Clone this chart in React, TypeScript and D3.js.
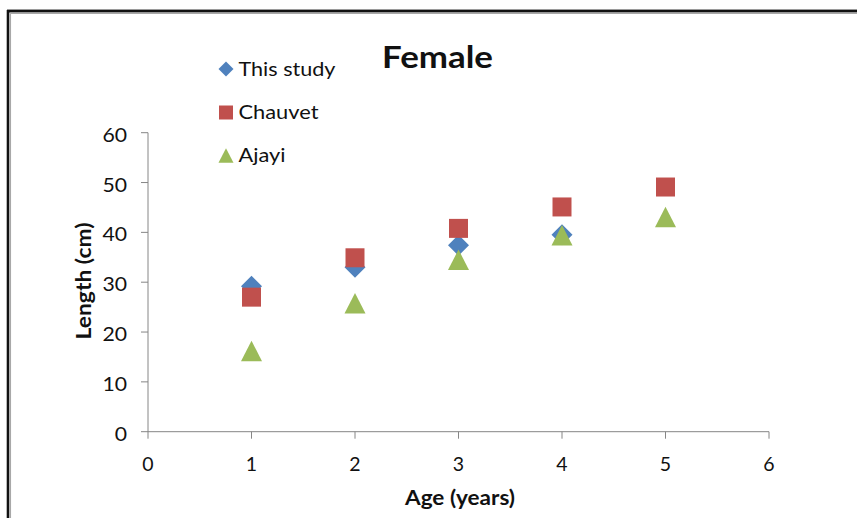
import React from "react";
import * as d3 from "d3";

const ages = [1, 2, 3, 4, 5];
const thisStudy: (number | null)[] = [29.2, 33.0, 37.4, 39.5, null];
const chauvet = [27.0, 34.9, 40.8, 45.1, 49.1];
const ajayi = [16.2, 25.8, 34.5, 39.4, 43.1];
const xTicks = [0, 1, 2, 3, 4, 5, 6];
const yTicks = [0, 10, 20, 30, 40, 50, 60];

const BLUE = "#4F81BD";
const RED = "#C0504D";
const GREEN = "#9BBB59";
const AXIS = "#868686";
const FONT = "Lato, 'Liberation Sans', sans-serif";

const W = 857;
const H = 518;

const x = d3.scaleLinear().domain([0, 6]).range([148, 769]);
const y = d3.scaleLinear().domain([0, 60]).range([431.7, 132.7]);

function diamondPath(cx: number, cy: number, r: number) {
  const p = d3.path();
  p.moveTo(cx, cy - r);
  p.lineTo(cx + r, cy);
  p.lineTo(cx, cy + r);
  p.lineTo(cx - r, cy);
  p.closePath();
  return p.toString();
}
function squarePath(cx: number, cy: number, s: number) {
  const p = d3.path();
  p.rect(cx - s / 2, cy - s / 2, s, s);
  return p.toString();
}
function trianglePath(cx: number, cy: number, w: number, h: number) {
  const p = d3.path();
  p.moveTo(cx, cy - h / 2);
  p.lineTo(cx + w / 2, cy + h / 2);
  p.lineTo(cx - w / 2, cy + h / 2);
  p.closePath();
  return p.toString();
}

export default function App() {
  return (
    <svg
      width={W}
      height={H}
      style={{ position: "absolute", left: 0, top: 0, background: "#fff" }}
    >
      <rect x={0} y={0} width={W} height={H} fill="#fff" />
      {/* frame */}
      <line x1={7} y1={9.5} x2={W} y2={9.5} stroke="#9a9a9a" strokeWidth={1} />
      <line x1={8} y1={11.3} x2={W} y2={11.3} stroke="#111" strokeWidth={2.6} />
      <line x1={8} y1={10} x2={8} y2={H} stroke="#111" strokeWidth={2.6} />
      <line x1={10.3} y1={13.3} x2={W} y2={13.3} stroke="#a8a8a8" strokeWidth={1.5} />
      <line x1={10.3} y1={13.3} x2={10.3} y2={H} stroke="#a8a8a8" strokeWidth={1.5} />

      {/* axes */}
      <line x1={x(0)} y1={y(60)} x2={x(0)} y2={y(0)} stroke={AXIS} strokeWidth={1} />
      <line x1={x(0)} y1={y(0)} x2={x(6)} y2={y(0)} stroke={AXIS} strokeWidth={1} />
      {yTicks.map((t) => (
        <g key={"y" + t}>
          <line x1={x(0) - 7} y1={y(t)} x2={x(0)} y2={y(t)} stroke={AXIS} strokeWidth={1} />
          <text
            x={127}
            y={y(t) + 1.5}
            textAnchor="end"
            dominantBaseline="central"
            fontFamily={FONT}
            fontSize={19.5}
            fill="#111"
            textLength={String(t).length * 12.3}
            lengthAdjust="spacingAndGlyphs"
          >
            {t}
          </text>
        </g>
      ))}
      {xTicks.map((t) => (
        <g key={"x" + t}>
          <line x1={x(t)} y1={y(0)} x2={x(t)} y2={y(0) + 7} stroke={AXIS} strokeWidth={1} />
          <text
            x={x(t)}
            y={463.5}
            textAnchor="middle"
            dominantBaseline="central"
            fontFamily={FONT}
            fontSize={19.5}
            fill="#111"
          >
            {t}
          </text>
        </g>
      ))}

      {/* axis titles */}
      <text
        x={460}
        y={497}
        textAnchor="middle"
        dominantBaseline="central"
        fontFamily={FONT}
        fontWeight="bold"
        fontSize={20}
        fill="#111"
        textLength={110}
        lengthAdjust="spacingAndGlyphs"
      >
        Age (years)
      </text>
      <text
        transform={`translate(83,281) rotate(-90)`}
        textAnchor="middle"
        dominantBaseline="central"
        fontFamily={FONT}
        fontWeight="bold"
        fontSize={20}
        fill="#111"
        textLength={117}
        lengthAdjust="spacingAndGlyphs"
      >
        Length (cm)
      </text>

      {/* title */}
      <text
        x={382}
        y={67.5}
        fontFamily={FONT}
        fontWeight="bold"
        fontSize={31}
        fill="#111"
        textLength={111}
        lengthAdjust="spacingAndGlyphs"
      >
        Female
      </text>

      {/* legend */}
      <path d={diamondPath(226, 69, 7.5)} fill={BLUE} />
      <text x={238.5} y={76} fontFamily={FONT} fontSize={20} fill="#111" textLength={97} lengthAdjust="spacingAndGlyphs">
        This study
      </text>
      <path d={squarePath(226, 112.5, 14)} fill={RED} />
      <text x={238.5} y={119.3} fontFamily={FONT} fontSize={20} fill="#111" textLength={80} lengthAdjust="spacingAndGlyphs">
        Chauvet
      </text>
      <path d={trianglePath(226, 155.5, 15, 14.5)} fill={GREEN} />
      <text x={238.5} y={161.7} fontFamily={FONT} fontSize={20} fill="#111" textLength={47} lengthAdjust="spacingAndGlyphs">
        Ajayi
      </text>

      {/* data */}
      <g>
        {ages.map((a, i) =>
          thisStudy[i] == null ? null : (
            <path key={"b" + i} d={diamondPath(x(a), y(thisStudy[i] as number), 10.5)} fill={BLUE} />
          )
        )}
      </g>
      <g>
        {ages.map((a, i) => (
          <path key={"r" + i} d={squarePath(x(a), y(chauvet[i]), 19)} fill={RED} />
        ))}
      </g>
      <g>
        {ages.map((a, i) => (
          <path key={"g" + i} d={trianglePath(x(a), y(ajayi[i]), 21, 20.5)} fill={GREEN} />
        ))}
      </g>
    </svg>
  );
}
